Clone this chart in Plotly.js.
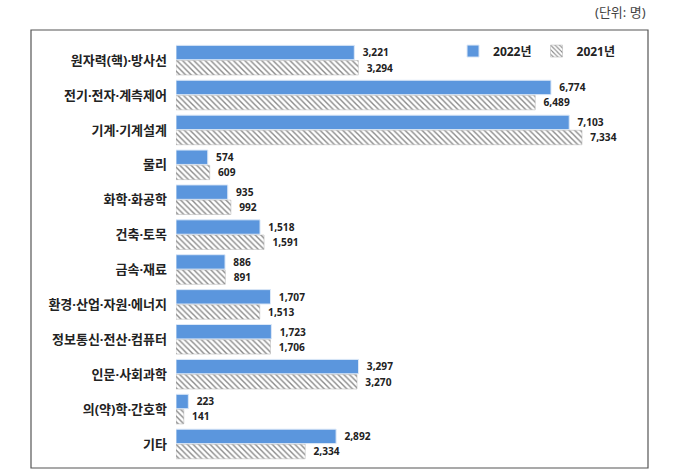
<!DOCTYPE html>
<html>
<head>
<meta charset="utf-8">
<script src="https://cdn.plot.ly/plotly-3.0.1.min.js"></script>
<style>body{margin:0;background:#fff}#chart{width:680px;height:473px}</style>
</head>
<body>
<div id="chart"></div>
<script>
var categories = ['원자력(핵)·방사선', '전기·전자·계측제어', '기계·기계설계', '물리', '화학·화공학', '건축·토목',
  '금속·재료', '환경·산업·자원·에너지', '정보통신·전산·컴퓨터', '인문·사회과학', '의(약)학·간호학', '기타'];
var y2022 = [3221, 6774, 7103, 574, 935, 1518, 886, 1707, 1723, 3297, 223, 2892];
var y2021 = [3294, 6489, 7334, 609, 992, 1591, 891, 1513, 1706, 3270, 141, 2334];

var fam = '"Noto Sans", "Noto Sans CJK KR", sans-serif';
var labelFont = {family: fam, size: 12, color: '#222', weight: 'bold'};

var trace1 = {
  y: categories,
  x: y2022,
  name: '2022년',
  type: 'bar',
  orientation: 'h',
  texttemplate: '\u00a0\u00a0%{x:,}',
  textposition: 'outside',
  textfont: labelFont,
  cliponaxis: false,
  marker: {color: '#5b96dd', line: {color: '#dce8f7', width: 1}}
};

var trace2 = {
  y: categories,
  x: y2021,
  name: '2021년',
  type: 'bar',
  orientation: 'h',
  texttemplate: '\u00a0\u00a0%{x:,}',
  textposition: 'outside',
  textfont: labelFont,
  cliponaxis: false,
  marker: {
    color: '#ffffff',
    line: {color: '#b0b0b0', width: 0.5},
    pattern: {shape: '\\', fgcolor: '#8a8a8a', bgcolor: '#ffffff', size: 4, solidity: 0.35}
  }
};

var layout = {
  width: 680,
  height: 473,
  barmode: 'group',
  bargap: 0.13,
  bargroupgap: 0.05,
  margin: {l: 31, r: 32, t: 30, b: 5},
  paper_bgcolor: '#ffffff',
  plot_bgcolor: '#ffffff',
  font: {family: fam, color: '#222'},
  showlegend: true,
  legend: {
    orientation: 'h', x: 0.684, y: 0.985, xanchor: 'left', yanchor: 'top',
    font: {size: 12, color: '#222', weight: 'bold'},
    itemwidth: 30, bgcolor: 'rgba(0,0,0,0)'
  },
  xaxis: {
    domain: [0.235, 1],
    range: [0, 8526],
    showgrid: false, zeroline: false, showticklabels: false, showline: false
  },
  yaxis: {
    domain: [0.015, 0.971],
    range: [11.5, -0.5],
    showgrid: false, zeroline: false, showline: false,
    ticks: '', ticklabelstandoff: 8,
    tickfont: {size: 13, color: '#222', weight: 'bold'}
  },
  shapes: [{
    type: 'rect', xref: 'paper', yref: 'paper', x0: 0, x1: 1, y0: 0, y1: 1,
    line: {color: '#555', width: 1.2}
  }],
  annotations: [{
    text: '(단위: 명)', xref: 'paper', yref: 'paper', x: 1, y: 1.041,
    xanchor: 'right', yanchor: 'middle', showarrow: false,
    font: {size: 13, color: '#444'}
  }]
};

Plotly.newPlot('chart', [trace1, trace2], layout, {displayModeBar: false});
</script>
</body>
</html>
